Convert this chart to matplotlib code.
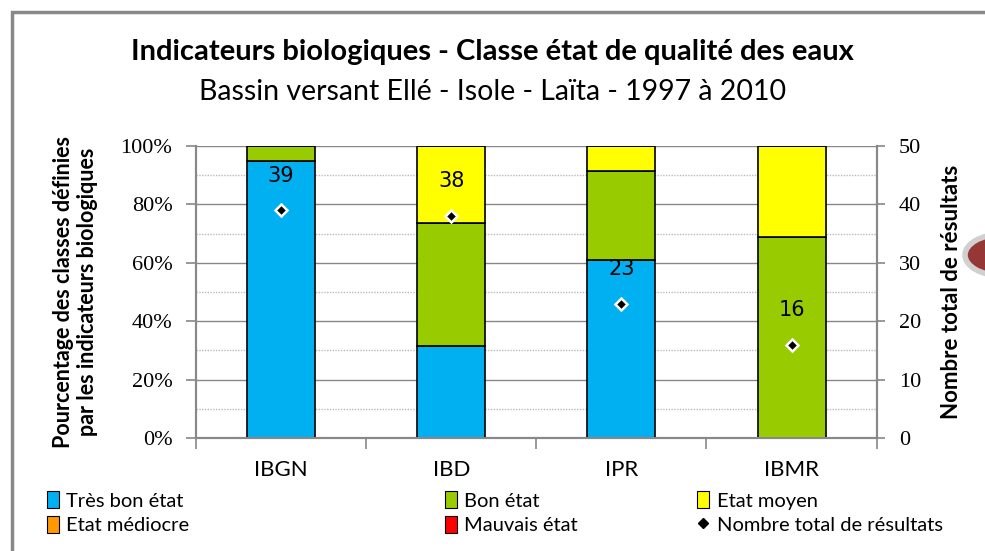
"""Indicateurs biologiques - classes d'état de qualité des eaux (Ellé - Isole - Laïta)."""

import matplotlib
matplotlib.use('Agg')
import matplotlib.pyplot as plt
import numpy as np
from matplotlib.lines import Line2D
from matplotlib.patches import Circle, Patch, Rectangle
from matplotlib.ticker import MultipleLocator, PercentFormatter

INDICATEURS = ['IBGN', 'IBD', 'IPR', 'IBMR']

# nombre de résultats par classe d'état
TRES_BON = [37, 12, 14, 0]
BON = [2, 16, 7, 11]
MOYEN = [0, 10, 2, 5]
MEDIOCRE = [0, 0, 0, 0]
MAUVAIS = [0, 0, 0, 0]
TOTAL = [39, 38, 23, 16]

CLASSES = ['Très bon état', 'Bon état', 'Etat moyen', 'Etat médiocre', 'Mauvais état']
COULEURS = ['#00b0f0', '#99cc00', '#ffff00', '#ff9900', '#ff0000']

FONT = ['Lato', 'DejaVu Sans']
GRIS = '#888888'

plt.rcParams['font.family'] = FONT

fig = plt.figure(figsize=(9.85, 5.51), dpi=100)
ax = fig.add_axes([0.199, 0.205, 0.691, 0.530])
ax2 = ax.twinx()

x = np.arange(len(INDICATEURS))
counts = np.array([TRES_BON, BON, MOYEN, MEDIOCRE, MAUVAIS], dtype=float)
totals = np.array(TOTAL, dtype=float)
parts = counts / totals * 100

bottom = np.zeros(len(INDICATEURS))
for values, colour in zip(parts, COULEURS):
    ax.bar(x, values, width=0.4, bottom=bottom, color=colour,
           edgecolor='black', linewidth=1.2, zorder=3)
    bottom += values

ax.set_xlim(-0.5, len(INDICATEURS) - 0.5)
ax.set_ylim(0, 100)
ax.yaxis.set_major_locator(MultipleLocator(20))
ax.yaxis.set_minor_locator(MultipleLocator(10))
ax.yaxis.set_major_formatter(PercentFormatter(decimals=0))
ax.grid(axis='y', which='major', color=GRIS, linewidth=1.0, zorder=0)
ax.grid(axis='y', which='minor', color='#bbbbbb', linewidth=1.0,
        linestyle=(0, (1, 1)), zorder=0)
ax.set_axisbelow(True)

ax.set_xticks(np.arange(-0.5, len(INDICATEURS), 1.0))
ax.set_xticklabels([])
ax.tick_params(axis='x', length=8, color=GRIS, width=1.2)
for xi, name in zip(x, INDICATEURS):
    ax.text(xi, -0.11, name, transform=ax.get_xaxis_transform(),
            ha='center', va='center', fontsize=16)

ax.tick_params(axis='y', which='major', length=7, color=GRIS, width=1.2,
               labelsize=16, pad=10)
ax.tick_params(axis='y', which='minor', length=0)
for lab in ax.get_yticklabels():
    lab.set_family('Liberation Serif')

ax2.set_ylim(0, 50)
ax2.yaxis.set_major_locator(MultipleLocator(10))
ax2.tick_params(axis='y', length=6, color=GRIS, width=1.2, labelsize=16, pad=10)
for lab in ax2.get_yticklabels():
    lab.set_family('Liberation Serif')

for a in (ax, ax2):
    a.spines['top'].set_visible(False)
    for side in ('left', 'right', 'bottom'):
        a.spines[side].set_color(GRIS)
        a.spines[side].set_linewidth(1.5)

ax2.plot(x, totals, linestyle='none', marker='D', markersize=6,
         markerfacecolor='black', markeredgecolor='white', markeredgewidth=1.8,
         zorder=5)
for xi, total in zip(x, totals):
    ax2.annotate(f'{int(total)}', (xi, total), xytext=(0, 25),
                 textcoords='offset points', ha='center', va='center',
                 fontsize=15, family=['DejaVu Sans'], zorder=6)

ax.set_ylabel('Pourcentage des classes définies\npar les indicateurs biologiques',
              fontsize=15.5, fontweight='bold', labelpad=16, linespacing=1.2)
ax2.set_ylabel('Nombre total de résultats', fontsize=16, fontweight='bold',
               labelpad=14)

fig.text(0.5, 0.905, 'Indicateurs biologiques - Classe état de qualité des eaux',
         ha='center', va='center', fontsize=21, fontweight='bold')
fig.text(0.5, 0.833, 'Bassin versant Ellé - Isole - Laïta - 1997 à 2010',
         ha='center', va='center', fontsize=20.5)

# légende en trois colonnes placées à la main
handles = [Patch(facecolor=c, edgecolor='black', linewidth=0.8) for c in COULEURS]
handles.append(Line2D([], [], linestyle='none', marker='D', markersize=5,
                      color='black'))
labels = CLASSES + ['Nombre total de résultats']
columns = [([0, 3], 0.048), ([1, 4], 0.452), ([2, 5], 0.708)]
for idx, left in columns:
    fig.legend([handles[i] for i in idx], [labels[i] for i in idx],
               loc='upper left', bbox_to_anchor=(left, 0.108), frameon=False,
               fontsize=14.5, handlelength=0.6, handleheight=0.9,
               handletextpad=0.35, labelspacing=0.3, borderaxespad=0,
               borderpad=0)

# cadre de la diapositive et pastille décorative
fig.patches.append(Rectangle((12 / 985, -0.05), 1.1, 1.05 - 12 / 551,
                             transform=fig.transFigure, fill=False,
                             edgecolor=GRIS, linewidth=2.5))
fig.patches.append(Circle((1002 / 985, 1 - 255 / 551), 37 / 985,
                          transform=fig.transFigure, facecolor='#953735',
                          edgecolor='#d0d0d0', linewidth=4))

fig.savefig('out.png', dpi=100)
